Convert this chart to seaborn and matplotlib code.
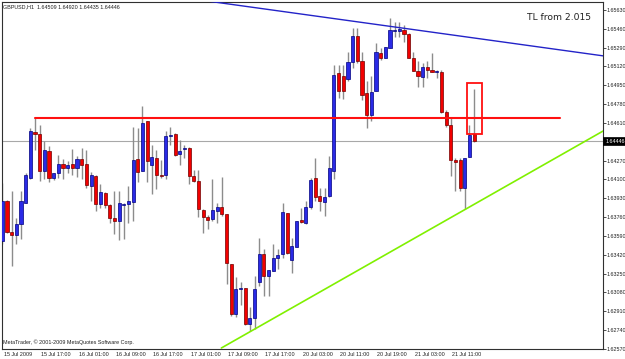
import matplotlib
matplotlib.use("Agg")
import matplotlib.pyplot as plt
import matplotlib.transforms as mtransforms
from matplotlib import font_manager
from matplotlib.patches import Rectangle
import numpy as np
import pandas as pd
import seaborn as sns

# ---------------- data ----------------
symbol_info = "GBPUSD,H1  1.64509 1.64920 1.64435 1.64446"
copyright_text = "MetaTrader, \u00a9 2001-2009 MetaQuotes Software Corp."
note_text = "TL from 2.015"

opens = [1.63545, 1.63905, 1.63629, 1.63599, 1.63695, 1.63887, 1.64115, 1.64529, 1.64511, 1.64175,
         1.64361, 1.64115, 1.64160, 1.64241, 1.64205, 1.64241, 1.64205, 1.64289, 1.64241, 1.64040,
         1.64130, 1.63881, 1.63977, 1.63866, 1.63755, 1.63725, 1.63866, 1.63875, 1.63899, 1.64286,
         1.64175, 1.64625, 1.64229, 1.64295, 1.64145, 1.64139, 1.64490, 1.64511, 1.64331, 1.64373,
         1.64385, 1.64130, 1.64085, 1.63821, 1.63761, 1.63740, 1.63815, 1.63851, 1.63785, 1.63335,
         1.62885, 1.63110, 1.63119, 1.62795, 1.62849, 1.63179, 1.63425, 1.63230, 1.63275, 1.63395,
         1.63425, 1.63800, 1.63371, 1.63491, 1.63731, 1.63710, 1.63851, 1.64115, 1.63950, 1.63899,
         1.63950, 1.64181, 1.65060, 1.65036, 1.65009, 1.65156, 1.65396, 1.65171, 1.64880, 1.64685,
         1.64900, 1.65246, 1.65201, 1.65291, 1.65441, 1.65441, 1.65450, 1.65411, 1.65195, 1.65081,
         1.65021, 1.65111, 1.65084, 1.65069, 1.65069, 1.64712, 1.64595, 1.64274, 1.64280, 1.64025,
         1.64301, 1.64509]
highs = [1.64070, 1.63911, 1.63995, 1.63755, 1.63995, 1.64160, 1.64565, 1.64661, 1.64589, 1.64445,
         1.64400, 1.64160, 1.64319, 1.64289, 1.64265, 1.64379, 1.64310, 1.64385, 1.64370, 1.64169,
         1.64145, 1.64055, 1.63983, 1.63875, 1.63995, 1.63995, 1.63890, 1.64040, 1.64571, 1.64565,
         1.64760, 1.64625, 1.64415, 1.64370, 1.64280, 1.64535, 1.64571, 1.64520, 1.64460, 1.64415,
         1.64391, 1.64190, 1.64190, 1.63830, 1.63779, 1.64100, 1.63890, 1.64121, 1.63785, 1.63335,
         1.63221, 1.63179, 1.63119, 1.62945, 1.63230, 1.63575, 1.63470, 1.63281, 1.63521, 1.63470,
         1.63890, 1.63800, 1.63575, 1.63725, 1.63845, 1.63905, 1.64109, 1.64295, 1.64025, 1.64025,
         1.64310, 1.65135, 1.65135, 1.65135, 1.65255, 1.65465, 1.65471, 1.65255, 1.64985, 1.65030,
         1.65330, 1.65285, 1.65300, 1.65555, 1.65525, 1.65525, 1.65495, 1.65420, 1.65255, 1.65165,
         1.65150, 1.65165, 1.65240, 1.65090, 1.65090, 1.64730, 1.64658, 1.64298, 1.64298, 1.64298,
         1.64595, 1.64920]
lows = [1.63515, 1.63620, 1.63320, 1.63515, 1.63560, 1.63887, 1.64100, 1.64370, 1.64085, 1.64100,
        1.64079, 1.64091, 1.64115, 1.64100, 1.64160, 1.64145, 1.64121, 1.64100, 1.64025, 1.63905,
        1.63815, 1.63845, 1.63845, 1.63710, 1.63605, 1.63551, 1.63560, 1.63710, 1.63725, 1.64079,
        1.64175, 1.64079, 1.63971, 1.64010, 1.64115, 1.64100, 1.64415, 1.64310, 1.64229, 1.64295,
        1.64061, 1.64079, 1.63761, 1.63620, 1.63650, 1.63725, 1.63710, 1.63770, 1.63161, 1.62870,
        1.62861, 1.62969, 1.62789, 1.62729, 1.62750, 1.63140, 1.63050, 1.63050, 1.63275, 1.63290,
        1.63395, 1.63425, 1.63260, 1.63491, 1.63710, 1.63695, 1.63830, 1.63905, 1.63815, 1.63770,
        1.63941, 1.64100, 1.64835, 1.64829, 1.64985, 1.65105, 1.65150, 1.64820, 1.64565, 1.64625,
        1.64900, 1.65180, 1.65195, 1.65285, 1.65390, 1.65390, 1.65345, 1.65195, 1.65081, 1.64931,
        1.64931, 1.65015, 1.65069, 1.65018, 1.64703, 1.64577, 1.64130, 1.63992, 1.63995, 1.63830,
        1.64301, 1.64435]
closes = [1.63905, 1.63629, 1.63599, 1.63701, 1.63905, 1.64139, 1.64535, 1.64511, 1.64175, 1.64370,
          1.64115, 1.64160, 1.64241, 1.64205, 1.64229, 1.64205, 1.64289, 1.64235, 1.64049, 1.64139,
          1.63881, 1.63986, 1.63869, 1.63755, 1.63725, 1.63890, 1.63881, 1.63905, 1.64280, 1.64166,
          1.64610, 1.64265, 1.64301, 1.64145, 1.64130, 1.64490, 1.64505, 1.64325, 1.64355, 1.64385,
          1.64130, 1.64085, 1.63830, 1.63761, 1.63731, 1.63821, 1.63851, 1.63785, 1.63350, 1.62885,
          1.63116, 1.63125, 1.62795, 1.62849, 1.63110, 1.63425, 1.63230, 1.63281, 1.63395, 1.63419,
          1.63809, 1.63440, 1.63500, 1.63725, 1.63716, 1.63851, 1.64091, 1.63941, 1.63905, 1.63941,
          1.64205, 1.65045, 1.64901, 1.64895, 1.65156, 1.65396, 1.65165, 1.64865, 1.64685, 1.64889,
          1.65255, 1.65201, 1.65300, 1.65450, 1.65450, 1.65456, 1.65411, 1.65195, 1.65081, 1.65030,
          1.65111, 1.65090, 1.65069, 1.65081, 1.64709, 1.64595, 1.64274, 1.64262, 1.64025, 1.64295,
          1.64505, 1.64446]

time_labels = ["15 Jul 2009", "15 Jul 17:00", "16 Jul 01:00", "16 Jul 09:00", "16 Jul 17:00",
               "17 Jul 01:00", "17 Jul 09:00", "17 Jul 17:00", "20 Jul 03:00", "20 Jul 11:00",
               "20 Jul 19:00", "21 Jul 03:00", "21 Jul 11:00"]
bars_per_label = 8
price_ticks = [1.65630, 1.65460, 1.65290, 1.65120, 1.64950, 1.64780, 1.64610, 1.64440,
               1.64270, 1.64100, 1.63930, 1.63760, 1.63590, 1.63420, 1.63250, 1.63080,
               1.62910, 1.62740, 1.62570]
current_price = 1.64446

resistance_price = 1.64658
resistance_bars = [7, 119.4]
upper_tl_bars = [42.3, 128.6]
upper_tl_prices = [1.65720, 1.65216]
lower_tl_bars = [46.9, 128.6]
lower_tl_prices = [1.62579, 1.64537]
box_bars = [99.44, 102.65]
box_prices = [1.64514, 1.64970]
note_bar, note_price = 112.4, 1.65558

# ---------------- fonts ----------------
sns.set_theme(style="white")
installed = {f.name for f in font_manager.fontManager.ttflist}
if "Liberation Sans Narrow" in installed:
    small_family, small_size = "Liberation Sans Narrow", 4.7
else:
    small_family, small_size = "Liberation Sans", 3.9
plt.rcParams["font.family"] = [small_family, "DejaVu Sans"]

# ---------------- figure ----------------
df = pd.DataFrame({"open": opens, "high": highs, "low": lows, "close": closes})
df["bar"] = np.arange(len(df))
df["up"] = df["close"] >= df["open"]

W, H = 625, 359
fig = plt.figure(figsize=(W / 100, H / 100), dpi=100)
ax = fig.add_axes([2 / W, 10 / H, 601 / W, 347 / H])
ax.set_facecolor("white")

ax.set_xlim(-0.064, 128.6)
ax.set_ylim(1.62579, 1.65702)

# current price line
ax.axhline(current_price, color="#a8a8a8", lw=0.8, zorder=1)

# wicks
ax.vlines(df["bar"], df["low"], df["high"], color="#8c8c8c", lw=1.0, zorder=2)

# bodies
min_h = 0.00012
bottoms = np.minimum(df["open"], df["close"])
heights = np.maximum(np.abs(df["close"] - df["open"]), min_h)
face = np.where(df["up"], "#2a2ae6", "#f20000")
edge = np.where(df["up"], "#000080", "#700000")
ax.bar(df["bar"], heights, bottom=bottoms, width=0.66, color=face,
       edgecolor=edge, linewidth=0.5, zorder=3)

# trend lines & markup
ax.plot(upper_tl_bars, upper_tl_prices, color="#2323c8", lw=1.0, zorder=4)
ax.plot(lower_tl_bars, lower_tl_prices, color="#80f000", lw=1.2, zorder=4)
ax.plot(resistance_bars, [resistance_price, resistance_price], color="#ff1010", lw=1.5, zorder=4)
ax.add_patch(Rectangle((box_bars[0], box_prices[0]), box_bars[1] - box_bars[0],
                       box_prices[1] - box_prices[0], fill=False, ec="#ff1010", lw=1.3, zorder=5))
ax.text(note_bar, note_price, note_text, fontsize=6.6, color="#202020", va="center", ha="left",
        family="DejaVu Sans")

# axes / ticks
for s in ax.spines.values():
    s.set_color("#303030")
    s.set_linewidth(0.8)

ax.yaxis.tick_right()
ax.set_yticks(price_ticks)
ax.set_yticklabels([f"{p:.5f}" for p in price_ticks])
ax.tick_params(axis="y", direction="out", length=1.8, width=0.6, colors="#303030",
               labelsize=small_size, pad=0.6, labelcolor="#202020")

xt = np.arange(len(time_labels)) * bars_per_label
ax.set_xticks(xt)
ax.set_xticklabels(time_labels)
ax.tick_params(axis="x", direction="out", length=4.5, width=0.6, colors="#303030",
               labelsize=small_size, pad=-2.2, labelcolor="#202020")
shift = mtransforms.ScaledTranslation(1.5 / 100, 0, fig.dpi_scale_trans)
for lab in ax.get_xticklabels():
    lab.set_horizontalalignment("left")
    lab.set_transform(lab.get_transform() + shift)
ax.set_xlabel("")
ax.set_ylabel("")

# the 1.64440 label is covered by the current-price box
for t, p in zip(ax.get_yticklabels(), price_ticks):
    if abs(p - current_price) < 0.0005:
        t.set_visible(False)

trans = mtransforms.blended_transform_factory(ax.transAxes, ax.transData)
ax.text(1.0035, current_price, f"{current_price:.5f}", transform=trans, fontsize=small_size,
        color="white", va="center", ha="left",
        bbox=dict(boxstyle="square,pad=0.3", fc="black", ec="black", lw=0.5))

ax.text(0.002, 0.993, symbol_info, transform=ax.transAxes, fontsize=small_size,
        color="#202020", va="top", ha="left")
ax.text(0.002, 0.012, copyright_text, transform=ax.transAxes, fontsize=small_size,
        color="#202020", va="bottom", ha="left")

fig.savefig("out.png", dpi=100, facecolor="white")
